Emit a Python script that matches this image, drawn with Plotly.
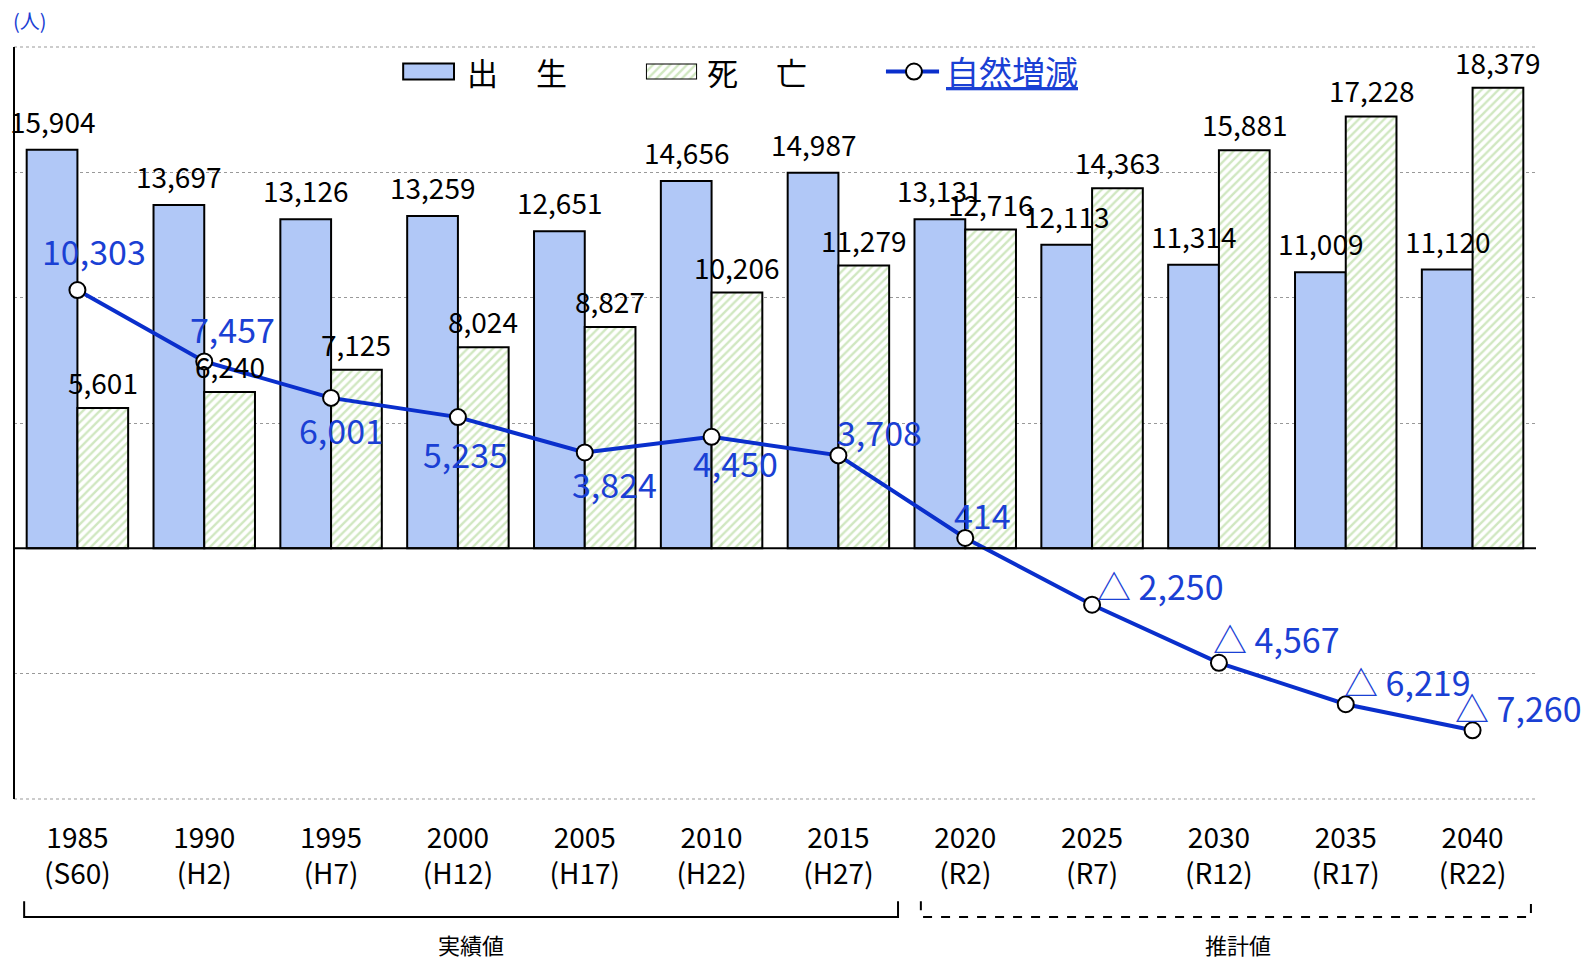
import plotly.graph_objects as go

years = ["1985", "1990", "1995", "2000", "2005", "2010", "2015",
         "2020", "2025", "2030", "2035", "2040"]
eras = ["S60", "H2", "H7", "H12", "H17", "H22", "H27",
        "R2", "R7", "R12", "R17", "R22"]
births = [15904, 13697, 13126, 13259, 12651, 14656, 14987,
          13131, 12113, 11314, 11009, 11120]
deaths = [5601, 6240, 7125, 8024, 8827, 10206, 11279,
          12716, 14363, 15881, 17228, 18379]
natural = [10303, 7457, 6001, 5235, 3824, 4450, 3708,
           414, -2250, -4567, -6219, -7260]

categories = [f"{y}<br>({e})" for y, e in zip(years, eras)]

FONT = "Noto Sans CJK JP, Noto Sans, sans-serif"
BLUE_LINE = "#0a2fcc"
BLUE_TEXT = "#1a40d4"
BIRTH_FILL = "#b1c8f7"
HATCH = dict(shape="/", fgcolor="#a2d083", bgcolor="white", size=6, solidity=0.4)

fig = go.Figure()

fig.add_trace(go.Bar(
    x=categories, y=births, name="出生", showlegend=False,
    marker=dict(color=BIRTH_FILL, line=dict(color="black", width=2)),
))
fig.add_trace(go.Bar(
    x=categories, y=deaths, name="死亡", showlegend=False,
    marker=dict(color="white", line=dict(color="black", width=2), pattern=HATCH),
))
fig.add_trace(go.Scatter(
    x=categories, y=natural, mode="lines+markers", name="自然増減", showlegend=False,
    line=dict(color=BLUE_LINE, width=4),
    marker=dict(symbol="circle", size=16, color="white",
                line=dict(color="black", width=2)),
))

# hatched legend swatch drawn as a one-bar trace in its own small axes
fig.add_trace(go.Bar(
    x=[1], y=[0], orientation="h", width=1, xaxis="x2", yaxis="y2",
    showlegend=False, hoverinfo="skip", cliponaxis=False,
    marker=dict(color="white", line=dict(color="black", width=2), pattern=HATCH),
))

annotations = []

# bar value labels
for i, v in enumerate(births):
    annotations.append(dict(x=i - 0.2, y=v, text=f"{v:,}", showarrow=False,
                            yanchor="middle", yshift=29,
                            font=dict(size=28, color="black", family=FONT)))
for i, v in enumerate(deaths):
    annotations.append(dict(x=i + 0.2, y=v, text=f"{v:,}", showarrow=False,
                            yanchor="middle", yshift=26,
                            font=dict(size=28, color="black", family=FONT)))

# natural increase labels (negative shown with △)
label_offsets = [(17, 40), (28, 33), (10, -32), (8, -36), (30, -31), (24, -26),
                 (41, 24), (17, 23), (68, 19), (58, 24), (62, 23), (46, 23)]
for i, (v, (dx, dy)) in enumerate(zip(natural, label_offsets)):
    txt = f"{v:,}" if v >= 0 else f"△ {abs(v):,}"
    annotations.append(dict(x=i, y=v, text=txt, showarrow=False,
                            xanchor="center", yanchor="middle",
                            xshift=dx, yshift=dy,
                            font=dict(size=34, color=BLUE_TEXT, family=FONT)))

# unit label and bracket captions
annotations.append(dict(x=-0.002, xref="paper", y=1.035, yref="paper",
                        text="(人)", showarrow=False, xanchor="left", yanchor="middle",
                        font=dict(size=20, color=BLUE_TEXT, family=FONT)))
annotations.append(dict(x=3.1, y=-0.193, yref="paper", text="実績値",
                        showarrow=False, yanchor="middle",
                        font=dict(size=22, color="black", family=FONT)))
annotations.append(dict(x=9.15, y=-0.193, yref="paper", text="推計値",
                        showarrow=False, yanchor="middle",
                        font=dict(size=22, color="black", family=FONT)))

# legend texts
legend_y = 0.968
annotations.append(dict(x=0.2960, xref="paper", y=legend_y, yref="paper",
                        text="出\u3000 生", showarrow=False, xanchor="left", yanchor="middle",
                        font=dict(size=31, color="black", family=FONT)))
annotations.append(dict(x=0.454, xref="paper", y=legend_y, yref="paper",
                        text="死\u3000 亡", showarrow=False, xanchor="left", yanchor="middle",
                        font=dict(size=31, color="black", family=FONT)))
annotations.append(dict(x=0.611, xref="paper", y=legend_y, yref="paper",
                        text="<u>自然増減</u>", showarrow=False, xanchor="left", yanchor="middle",
                        font=dict(size=33, color=BLUE_TEXT, family=FONT)))

shapes = [
    # top and bottom dotted grid lines
    dict(type="line", xref="paper", yref="paper", x0=0, x1=1, y0=1, y1=1,
         line=dict(color="#999999", width=1, dash="dot")),
    dict(type="line", xref="paper", yref="paper", x0=0, x1=1, y0=0, y1=0,
         line=dict(color="#999999", width=1, dash="dot")),
    # zero line
    dict(type="line", xref="paper", x0=0, x1=1, y0=0, y1=0,
         line=dict(color="black", width=2)),
    # left axis
    dict(type="line", xref="paper", yref="paper", x0=0, x1=0, y0=0, y1=1,
         line=dict(color="black", width=2)),
    # actual-values bracket
    dict(type="path", yref="paper",
         path="M -0.42,-0.136 L -0.42,-0.157 L 6.47,-0.157 L 6.47,-0.136",
         line=dict(color="black", width=2)),
    # projection bracket
    dict(type="path", yref="paper",
         path="M 6.65,-0.136 L 6.65,-0.157 L 11.46,-0.157 L 11.46,-0.136",
         line=dict(color="black", width=2, dash="dash")),
    # legend: birth swatch
    dict(type="rect", xref="paper", yref="paper", x0=0.2557, x1=0.2891,
         y0=0.9568, y1=0.9781, fillcolor=BIRTH_FILL, line=dict(color="black", width=2)),
    # legend: line swatch with marker
    dict(type="line", xref="paper", yref="paper", x0=0.5729, x1=0.6078,
         y0=0.9674, y1=0.9674, line=dict(color=BLUE_LINE, width=4)),
    dict(type="circle", xref="paper", yref="paper", xsizemode="pixel", ysizemode="pixel",
         xanchor=0.5913, yanchor=0.9674, x0=-8, x1=8, y0=-8, y1=8,
         fillcolor="white", line=dict(color="black", width=2)),
]

fig.update_layout(
    width=1576, height=950,
    margin=dict(l=6, r=48, t=39, b=159),
    plot_bgcolor="white", paper_bgcolor="white",
    barmode="group", bargap=0.2, bargroupgap=0,
    font=dict(family=FONT, color="black"),
    showlegend=False,
    xaxis=dict(type="category", showgrid=False, showline=False,
               ticks="outside", ticklen=14, tickcolor="rgba(0,0,0,0)",
               tickfont=dict(size=28, family=FONT, color="black"),
               range=[-0.5, 11.5]),
    yaxis=dict(range=[-10000, 20000], dtick=5000, showticklabels=False,
               showgrid=True, gridcolor="#999999", griddash="dot", gridwidth=1,
               zeroline=False, showline=False, ticks=""),
    xaxis2=dict(domain=[0.4152, 0.4488], anchor="y2", range=[0, 1], visible=False,
                fixedrange=True),
    yaxis2=dict(domain=[0.9568, 0.9781], anchor="x2", range=[-0.5, 0.5], visible=False,
                fixedrange=True),
    annotations=annotations,
    shapes=shapes,
)

fig.write_html("out.html")
